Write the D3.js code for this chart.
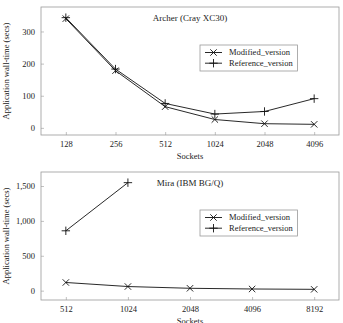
<!DOCTYPE html>
<html>
<head>
<meta charset="utf-8">
<script src="https://cdn.jsdelivr.net/npm/d3@7"></script>
<style>
body { margin: 0; background: #fff; }
text { font-family: "Liberation Serif", "DejaVu Serif", serif; fill: #222; }
</style>
</head>
<body>
<div class="chart"></div>
<script>
// Archer (Cray XC30)
var archerSockets = [128, 256, 512, 1024, 2048, 4096];
var archerModified = [340, 178, 66, 26, 13, 11];
var archerReference = [343, 183, 76, 43, 51, 91];
var archerYTicks = [0, 100, 200, 300];

// Mira (IBM BG/Q)
var miraSockets = [512, 1024, 2048, 4096, 8192];
var miraModified = [117, 59, 34, 24, 19];
var miraRefSockets = [512, 1024];
var miraReference = [858, 1548];
var miraYTicks = [0, 500, 1000, 1500];

var seriesNames = ["Modified_version", "Reference_version"];

var svgWidth = 343;
var svgHeight = 323;
var boxColor = "#999";
var lineColor = "#111";

var $svg = d3.select(".chart")
    .append("svg")
    .attr("width", svgWidth)
    .attr("height", svgHeight);

function buffer(domainArray, ratio) {
    var diff = domainArray[1] - domainArray[0];
    return [domainArray[0] - diff * ratio, domainArray[1] + diff * ratio];
}

function drawPanel(opt) {
    var left = 41, right = 339, top = opt.top, bottom = opt.top + 128;

    var xDom = buffer(d3.extent(opt.sockets).map(Math.log2), 0.1);
    var xScale = d3.scaleLinear().domain(xDom).range([left, right]);
    var allY = opt.modified.concat(opt.reference);
    var yScale = d3.scaleLinear().domain(buffer(d3.extent(allY), 0.1)).range([bottom, top]);

    var g = $svg.append("g");

    g.append("rect")
        .attr("x", left).attr("y", top)
        .attr("width", right - left).attr("height", bottom - top)
        .attr("fill", "none").attr("stroke", boxColor).attr("stroke-width", 0.8);

    var xAxis = d3.axisBottom(xScale)
        .tickValues(opt.sockets.map(Math.log2))
        .tickFormat(d => String(Math.pow(2, d)))
        .tickSizeInner(-3).tickSizeOuter(0).tickPadding(6);
    var gx = g.append("g")
        .attr("transform", `translate(0,${bottom})`)
        .call(xAxis);

    var yAxis = d3.axisLeft(yScale)
        .tickValues(opt.yTicks)
        .tickFormat(d3.format(","))
        .tickSizeInner(-3).tickSizeOuter(0).tickPadding(6);
    var gy = g.append("g")
        .attr("transform", `translate(${left},0)`)
        .call(yAxis);

    [gx, gy].forEach(a => {
        a.select(".domain").remove();
        a.selectAll(".tick line").attr("stroke", boxColor).attr("stroke-width", 0.6);
        a.selectAll(".tick text")
            .style("font-family", '"Liberation Serif", serif')
            .style("font-size", "8.5px")
            .attr("fill", "#222");
    });

    var line = d3.line()
        .x(d => xScale(Math.log2(d[0])))
        .y(d => yScale(d[1]));

    var modData = opt.sockets.map((s, i) => [s, opt.modified[i]]);
    var refData = opt.refSockets.map((s, i) => [s, opt.reference[i]]);

    [modData, refData].forEach((data, k) => {
        g.append("path")
            .datum(data)
            .attr("d", line)
            .attr("fill", "none")
            .attr("stroke", lineColor)
            .attr("stroke-width", 0.9);
        g.selectAll(".m" + k)
            .data(data)
            .enter()
            .append("path")
            .attr("transform", d => `translate(${xScale(Math.log2(d[0]))},${yScale(d[1])})`)
            .attr("d", k == 0 ? marker.cross : marker.plus)
            .attr("stroke", lineColor)
            .attr("stroke-width", 0.9)
            .attr("fill", "none");
    });

    // title
    g.append("text")
        .attr("x", (left + right) / 2)
        .attr("y", top + 13.5)
        .attr("text-anchor", "middle")
        .style("font-size", "9px")
        .text(opt.title);

    // legend
    var lg = g.append("g").attr("transform", `translate(200,${top + opt.legendTop})`);
    lg.append("rect")
        .attr("width", 97.5).attr("height", 26)
        .attr("fill", "#fff").attr("stroke", boxColor).attr("stroke-width", 0.8);
    seriesNames.forEach((name, k) => {
        var yy = 7.5 + k * 10.7;
        lg.append("line")
            .attr("x1", 5).attr("x2", 22).attr("y1", yy).attr("y2", yy)
            .attr("stroke", lineColor).attr("stroke-width", 0.9);
        lg.append("path")
            .attr("transform", `translate(13.5,${yy})`)
            .attr("d", k == 0 ? marker.cross : marker.plus)
            .attr("stroke", lineColor).attr("stroke-width", 0.9).attr("fill", "none");
        lg.append("text")
            .attr("x", 29).attr("y", yy).attr("dy", "0.33em")
            .style("font-size", "8.5px")
            .text(name);
    });

    // axis labels
    g.append("text")
        .attr("x", (left + right) / 2)
        .attr("y", bottom + 24)
        .attr("text-anchor", "middle")
        .style("font-size", "8.5px")
        .text("Sockets");
    g.append("text")
        .attr("transform", `translate(9,${(top + bottom) / 2}) rotate(-90)`)
        .attr("text-anchor", "middle")
        .style("font-size", "8.5px")
        .text("Application wall-time (secs)");
}

var marker = {
    cross: "M-3.2,-3.2L3.2,3.2M-3.2,3.2L3.2,-3.2",
    plus: "M-4.2,0L4.2,0M0,-4.2L0,4.2"
};

drawPanel({
    top: 7, sockets: archerSockets, modified: archerModified,
    refSockets: archerSockets, reference: archerReference,
    yTicks: archerYTicks, title: "Archer (Cray XC30)", legendTop: 38
});
drawPanel({
    top: 172, sockets: miraSockets, modified: miraModified,
    refSockets: miraRefSockets, reference: miraReference,
    yTicks: miraYTicks, title: "Mira (IBM BG/Q)", legendTop: 38
});
</script>
</body>
</html>
